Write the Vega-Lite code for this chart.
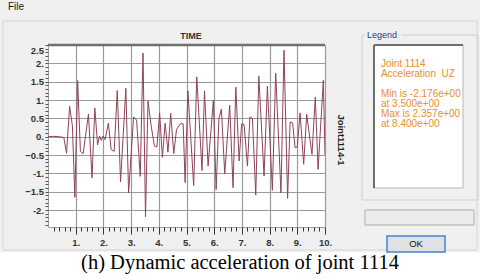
{
  "$schema": "https://vega.github.io/schema/vega-lite/v6.json",
  "width": 277,
  "height": 182,
  "autosize": {"type": "none"},
  "padding": {"left": 48, "top": 45, "right": 155, "bottom": 52},
  "background": "#f0f0f0",
  "config": {
    "view": {"stroke": "#a0a0a0", "fill": "white"},
    "font": "Liberation Sans"
  },
  "resolve": {"scale": {"x": "independent", "y": "independent"}},
  "layer": [
    {
      "data": {"values": [{}]},
      "layer": [
        {
          "mark": {"type": "rect", "fill": "white"},
          "encoding": {
            "x": {"datum": -1.913, "type": "quantitative", "scale": {"domain": [0, 10], "nice": false}, "axis": null},
            "x2": {"datum": 15.776},
            "y": {"datum": -3.141, "type": "quantitative", "scale": {"domain": [-2.46, 2.5], "nice": false, "zero": false}, "axis": null},
            "y2": {"datum": -4.041}
          }
        },
        {
          "mark": {"type": "rect", "fill": null, "stroke": "#d6d6d6", "strokeWidth": 1},
          "encoding": {
            "x": {"datum": -1.625, "type": "quantitative", "scale": {"domain": [0, 10], "nice": false}, "axis": null},
            "x2": {"datum": 15.487},
            "y": {"datum": 3.154, "type": "quantitative", "scale": {"domain": [-2.46, 2.5], "nice": false, "zero": false}, "axis": null},
            "y2": {"datum": -3.087}
          }
        },
        {
          "mark": {"type": "text", "text": "File", "align": "left", "baseline": "middle", "fontSize": 10, "color": "#1a1a1a"},
          "encoding": {
            "x": {"datum": -1.444, "type": "quantitative", "scale": {"domain": [0, 10], "nice": false}, "axis": null},
            "y": {"datum": 3.536, "type": "quantitative", "scale": {"domain": [-2.46, 2.5], "nice": false, "zero": false}, "axis": null}
          }
        }
      ]
    },
    {
      "data": {"values": [{"time": 0, "accel": 0}, {"time": 0.2, "accel": 0.01}, {"time": 0.4, "accel": 0}, {"time": 0.57, "accel": -0.02}, {"time": 0.67, "accel": -0.45}, {"time": 0.78, "accel": 0.83}, {"time": 0.88, "accel": 0.3}, {"time": 0.97, "accel": -1.65}, {"time": 1.07, "accel": 1.53}, {"time": 1.17, "accel": -0.4}, {"time": 1.27, "accel": -0.46}, {"time": 1.46, "accel": 0.62}, {"time": 1.59, "accel": -1.12}, {"time": 1.69, "accel": 0.78}, {"time": 1.79, "accel": -0.22}, {"time": 1.86, "accel": 0.02}, {"time": 1.92, "accel": -0.1}, {"time": 1.99, "accel": 0.02}, {"time": 2.06, "accel": -0.08}, {"time": 2.18, "accel": 0.37}, {"time": 2.28, "accel": -0.35}, {"time": 2.39, "accel": -0.4}, {"time": 2.5, "accel": 1.26}, {"time": 2.62, "accel": -1.23}, {"time": 2.81, "accel": 1.32}, {"time": 2.91, "accel": -1.53}, {"time": 3.09, "accel": 0.54}, {"time": 3.2, "accel": 0.45}, {"time": 3.33, "accel": -1.08}, {"time": 3.43, "accel": 2.28}, {"time": 3.52, "accel": -2.18}, {"time": 3.61, "accel": 0.97}, {"time": 3.72, "accel": 0.32}, {"time": 3.84, "accel": -0.25}, {"time": 3.93, "accel": -0.28}, {"time": 4.03, "accel": 0.65}, {"time": 4.13, "accel": -0.56}, {"time": 4.23, "accel": 0.37}, {"time": 4.33, "accel": -0.42}, {"time": 4.43, "accel": 0.64}, {"time": 4.54, "accel": -0.46}, {"time": 4.64, "accel": 0.2}, {"time": 4.79, "accel": 0.36}, {"time": 4.88, "accel": 0.35}, {"time": 4.95, "accel": -1.25}, {"time": 5.05, "accel": 1.25}, {"time": 5.26, "accel": -1.33}, {"time": 5.37, "accel": 1.63}, {"time": 5.56, "accel": -0.92}, {"time": 5.65, "accel": 1.25}, {"time": 5.78, "accel": -0.8}, {"time": 5.97, "accel": 0.99}, {"time": 6.07, "accel": -1.44}, {"time": 6.17, "accel": 0.5}, {"time": 6.26, "accel": 0.75}, {"time": 6.38, "accel": -1.01}, {"time": 6.56, "accel": 0.86}, {"time": 6.68, "accel": -1.39}, {"time": 6.78, "accel": 1.35}, {"time": 6.9, "accel": -0.66}, {"time": 6.99, "accel": 0.35}, {"time": 7.08, "accel": 0.33}, {"time": 7.2, "accel": -0.8}, {"time": 7.29, "accel": 0.54}, {"time": 7.38, "accel": 0.5}, {"time": 7.5, "accel": -1.59}, {"time": 7.61, "accel": 1.65}, {"time": 7.8, "accel": -1.07}, {"time": 7.92, "accel": 1.38}, {"time": 8.1, "accel": -1.46}, {"time": 8.22, "accel": 1.73}, {"time": 8.41, "accel": -1.53}, {"time": 8.52, "accel": 2.36}, {"time": 8.65, "accel": -1.68}, {"time": 8.74, "accel": 0.4}, {"time": 8.83, "accel": 0.38}, {"time": 8.92, "accel": -0.3}, {"time": 9.0, "accel": -0.28}, {"time": 9.1, "accel": 0.65}, {"time": 9.23, "accel": -0.75}, {"time": 9.34, "accel": 0.61}, {"time": 9.53, "accel": -0.48}, {"time": 9.65, "accel": 1.08}, {"time": 9.75, "accel": -0.89}, {"time": 9.94, "accel": 1.54}, {"time": 10.0, "accel": -0.5}]},
      "mark": {"type": "line", "color": "#8e4456", "strokeWidth": 1, "clip": true},
      "encoding": {
        "x": {
          "field": "time", "type": "quantitative",
          "scale": {"domain": [0, 10], "nice": false},
          "axis": {
            "values": [0.2,0.4,0.6,0.8,1,1.2,1.4,1.6,1.8,2,2.2,2.4,2.6,2.8,3,3.2,3.4,3.6,3.8,4,4.2,4.4,4.6,4.8,5,5.2,5.4,5.6,5.8,6,6.2,6.4,6.6,6.8,7,7.2,7.4,7.6,7.8,8,8.2,8.4,8.6,8.8,9,9.2,9.4,9.6,9.8,10],
            "title": null,
            "domain": false,
            "grid": true,
            "gridColor": "#9a9a9a",
            "gridWidth": 1.2,
            "gridOpacity": {"condition": {"test": "abs(datum.value - round(datum.value)) < 0.01", "value": 1}, "value": 0},
            "tickSize": {"condition": {"test": "abs(datum.value - round(datum.value)) < 0.01", "value": 7}, "value": 4},
            "tickColor": "#333333",
            "tickWidth": 1,
            "labelExpr": "abs(datum.value - round(datum.value)) < 0.01 ? round(datum.value) + '.' : ''",
            "labelDx": -7,
            "labelPadding": 3,
            "labelFontSize": 9.5,
            "labelFontWeight": "bold",
            "labelColor": "#333333",
            "labelFlush": false,
            "labelOverlap": false
          }
        },
        "y": {
          "field": "accel", "type": "quantitative",
          "scale": {"domain": [-2.46, 2.5], "nice": false, "zero": false},
          "axis": {
            "values": [-2.4,-2.3,-2.2,-2.1,-2,-1.9,-1.8,-1.7,-1.6,-1.5,-1.4,-1.3,-1.2,-1.1,-1,-0.9,-0.8,-0.7,-0.6,-0.5,-0.4,-0.3,-0.2,-0.1,0,0.1,0.2,0.3,0.4,0.5,0.6,0.7,0.8,0.9,1,1.1,1.2,1.3,1.4,1.5,1.6,1.7,1.8,1.9,2,2.1,2.2,2.3,2.4,2.5],
            "title": "Joint1114-1",
            "titleAngle": 90,
            "titleX": 292.7,
            "titleY": 94.5,
            "titleAlign": "center",
            "titleBaseline": "middle",
            "titleFontSize": 9.5,
            "titleFontWeight": "bold",
            "titleColor": "#222222",
            "domain": false,
            "grid": true,
            "gridColor": "#9a9a9a",
            "gridWidth": 1.2,
            "gridOpacity": {"condition": {"test": "abs(datum.value*2 - round(datum.value*2)) < 0.01", "value": 1}, "value": 0},
            "tickSize": 3,
            "tickColor": "#555555",
            "labelExpr": "abs(datum.value*2 - round(datum.value*2)) < 0.01 ? (abs(datum.value - round(datum.value)) < 0.01 ? round(datum.value) + '.' : format(datum.value, '.1f')) : ''",
            "labelPadding": 1.5,
            "labelFontSize": 9.5,
            "labelFontWeight": "bold",
            "labelColor": "#333333",
            "labelFlush": true,
            "labelOverlap": false
          }
        }
      }
    },
    {
      "data": {"values": [{}]},
      "layer": [
        {
          "mark": {"type": "text", "text": "TIME", "align": "center", "baseline": "middle", "fontSize": 9, "fontWeight": "bold", "color": "#333333"},
          "encoding": {
            "x": {"datum": 5.162, "type": "quantitative", "scale": {"domain": [0, 10], "nice": false}, "axis": null},
            "y": {"datum": 2.732, "type": "quantitative", "scale": {"domain": [-2.46, 2.5], "nice": false, "zero": false}, "axis": null}
          }
        },
        {
          "mark": {"type": "rule", "color": "#707070", "strokeWidth": 2.5},
          "encoding": {
            "x": {"datum": 0, "type": "quantitative", "scale": {"domain": [0, 10], "nice": false}, "axis": null},
            "x2": {"datum": 10},
            "y": {"datum": 2.5, "type": "quantitative", "scale": {"domain": [-2.46, 2.5], "nice": false, "zero": false}, "axis": null}
          }
        },
        {
          "mark": {"type": "rect", "fill": null, "stroke": "#cfcfcf", "strokeWidth": 1},
          "encoding": {
            "x": {"datum": 11.336, "type": "quantitative", "scale": {"domain": [0, 10], "nice": false}, "axis": null},
            "x2": {"datum": 15.523},
            "y": {"datum": 2.773, "type": "quantitative", "scale": {"domain": [-2.46, 2.5], "nice": false, "zero": false}, "axis": null},
            "y2": {"datum": -1.724}
          }
        },
        {
          "mark": {"type": "rect", "fill": "#f0f0f0"},
          "encoding": {
            "x": {"datum": 11.44, "type": "quantitative", "scale": {"domain": [0, 10], "nice": false}, "axis": null},
            "x2": {"datum": 12.75},
            "y": {"datum": 2.909, "type": "quantitative", "scale": {"domain": [-2.46, 2.5], "nice": false, "zero": false}, "axis": null},
            "y2": {"datum": 2.636}
          }
        },
        {
          "mark": {"type": "text", "text": "Legend", "align": "left", "baseline": "middle", "fontSize": 9, "color": "#2b3990"},
          "encoding": {
            "x": {"datum": 11.516, "type": "quantitative", "scale": {"domain": [0, 10], "nice": false}, "axis": null},
            "y": {"datum": 2.773, "type": "quantitative", "scale": {"domain": [-2.46, 2.5], "nice": false, "zero": false}, "axis": null}
          }
        },
        {
          "mark": {"type": "rect", "fill": "white", "stroke": "#b5b5b5", "strokeWidth": 1},
          "encoding": {
            "x": {"datum": 11.769, "type": "quantitative", "scale": {"domain": [0, 10], "nice": false}, "axis": null},
            "x2": {"datum": 14.982},
            "y": {"datum": 2.5, "type": "quantitative", "scale": {"domain": [-2.46, 2.5], "nice": false, "zero": false}, "axis": null},
            "y2": {"datum": -1.397}
          }
        },
        {
          "mark": {"type": "rule", "color": "#6e6e6e", "strokeWidth": 2},
          "encoding": {
            "x": {"datum": 11.769, "type": "quantitative", "scale": {"domain": [0, 10], "nice": false}, "axis": null},
            "x2": {"datum": 14.982},
            "y": {"datum": 2.5, "type": "quantitative", "scale": {"domain": [-2.46, 2.5], "nice": false, "zero": false}, "axis": null}
          }
        },
        {
          "mark": {"type": "rule", "color": "#6e6e6e", "strokeWidth": 2},
          "encoding": {
            "x": {"datum": 11.769, "type": "quantitative", "scale": {"domain": [0, 10], "nice": false}, "axis": null},
            "y": {"datum": 2.5, "type": "quantitative", "scale": {"domain": [-2.46, 2.5], "nice": false, "zero": false}, "axis": null},
            "y2": {"datum": -1.397}
          }
        },
        {
          "mark": {"type": "text", "text": ["Joint 1114", "Acceleration\u00a0 UZ"], "lineHeight": 10, "align": "left", "baseline": "alphabetic", "fontSize": 10, "color": "#e8902a"},
          "encoding": {
            "x": {"datum": 12.02, "type": "quantitative", "scale": {"domain": [0, 10], "nice": false}, "axis": null},
            "y": {"datum": 1.9, "type": "quantitative", "scale": {"domain": [-2.46, 2.5], "nice": false, "zero": false}, "axis": null}
          }
        },
        {
          "mark": {"type": "text", "text": ["Min is -2.176e+00", "at 3.500e+00", "Max is 2.357e+00", "at 8.400e+00"], "lineHeight": 10, "align": "left", "baseline": "alphabetic", "fontSize": 10, "color": "#e8902a"},
          "encoding": {
            "x": {"datum": 12.02, "type": "quantitative", "scale": {"domain": [0, 10], "nice": false}, "axis": null},
            "y": {"datum": 1.075, "type": "quantitative", "scale": {"domain": [-2.46, 2.5], "nice": false, "zero": false}, "axis": null}
          }
        },
        {
          "mark": {"type": "rect", "fill": "#ececec", "stroke": "#adadad", "strokeWidth": 1},
          "encoding": {
            "x": {"datum": 11.444, "type": "quantitative", "scale": {"domain": [0, 10], "nice": false}, "axis": null},
            "x2": {"datum": 15.379},
            "y": {"datum": -1.997, "type": "quantitative", "scale": {"domain": [-2.46, 2.5], "nice": false, "zero": false}, "axis": null},
            "y2": {"datum": -2.405}
          }
        },
        {
          "mark": {"type": "rect", "fill": "#e1e1e1", "stroke": "#3d87d8", "strokeWidth": 1.5},
          "encoding": {
            "x": {"datum": 12.238, "type": "quantitative", "scale": {"domain": [0, 10], "nice": false}, "axis": null},
            "x2": {"datum": 14.332},
            "y": {"datum": -2.705, "type": "quantitative", "scale": {"domain": [-2.46, 2.5], "nice": false, "zero": false}, "axis": null},
            "y2": {"datum": -3.141}
          }
        },
        {
          "mark": {"type": "text", "text": "OK", "align": "center", "baseline": "middle", "fontSize": 9.5, "color": "#111111"},
          "encoding": {
            "x": {"datum": 13.285, "type": "quantitative", "scale": {"domain": [0, 10], "nice": false}, "axis": null},
            "y": {"datum": -2.923, "type": "quantitative", "scale": {"domain": [-2.46, 2.5], "nice": false, "zero": false}, "axis": null}
          }
        },
        {
          "mark": {"type": "text", "text": "(h) Dynamic acceleration of joint 1114", "align": "center", "baseline": "alphabetic", "fontSize": 20.5, "font": "Liberation Serif", "color": "#000000"},
          "encoding": {
            "x": {"datum": 6.931, "type": "quantitative", "scale": {"domain": [0, 10], "nice": false}, "axis": null},
            "y": {"datum": -3.612, "type": "quantitative", "scale": {"domain": [-2.46, 2.5], "nice": false, "zero": false}, "axis": null}
          }
        }
      ]
    }
  ]
}
